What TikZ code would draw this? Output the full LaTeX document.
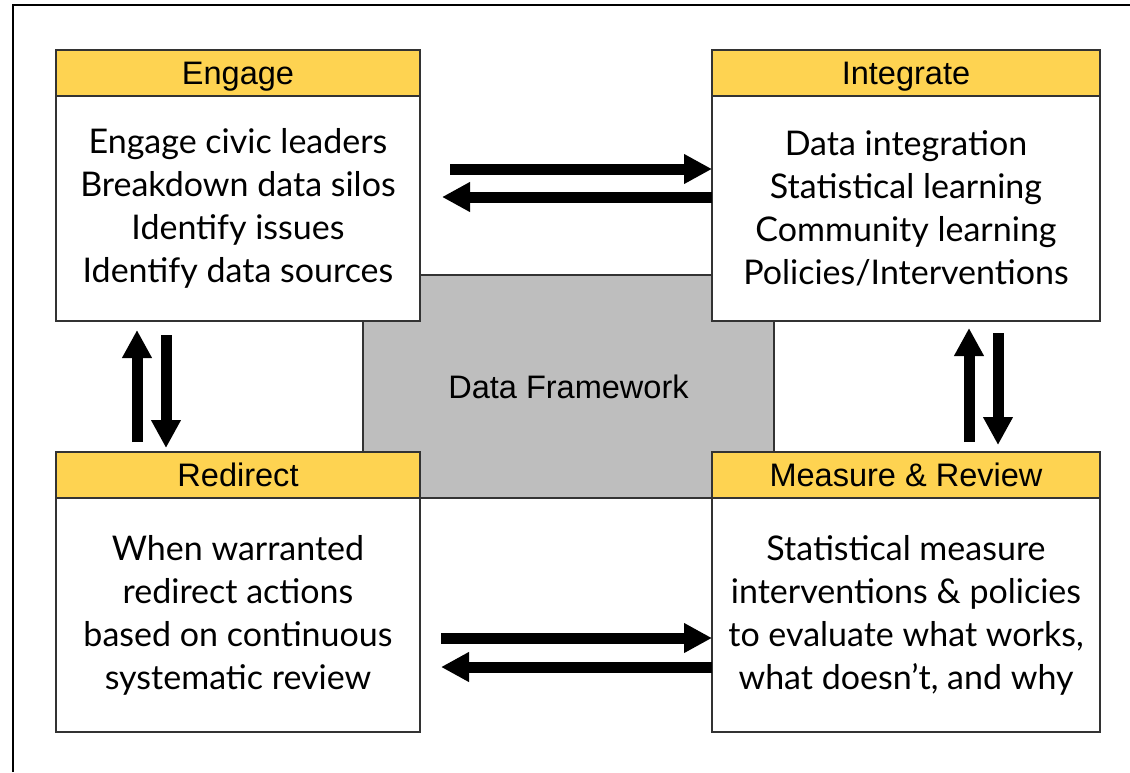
\documentclass[tikz,border=0pt]{standalone}
\usepackage{fontspec}
\usepackage{tikz}
\usetikzlibrary{arrows.meta}
\newfontfamily\headfont{Liberation Sans}
\newfontfamily\bodyfont{Lato}
\definecolor{headyellow}{RGB}{254,211,81}
\definecolor{framegray}{RGB}{190,190,190}
\tikzset{
  headbox/.style={draw=black!80, line width=0.9pt, fill=headyellow, inner sep=0pt, outer sep=0pt, anchor=north west, minimum height=34.5pt, text height=17.5pt, text depth=0pt, font=\headfont\fontsize{24.4}{28}\selectfont},
  textbox/.style={draw=black!80, line width=0.9pt, fill=white, inner sep=0pt, outer sep=0pt, anchor=north west, align=center, font=\bodyfont\fontsize{25.5}{32.25}\selectfont},
  framebox/.style={draw=black!80, line width=0.9pt, fill=framegray, inner sep=0pt, outer sep=0pt, minimum width=308.25pt, minimum height=167.25pt, font=\headfont\fontsize{24.4}{28}\selectfont},
  bigarrow/.style={line width=8.25pt, -{Triangle[width=21pt,length=21pt]}}
}
\begin{document}
\begin{tikzpicture}[x=0.75pt,y=0.75pt,yscale=-1,xscale=1]
		\useasboundingbox (0,0) rectangle (1130,772);
		
		%Straight Lines [outer frame]
		\draw [line width=1.2pt] (13,772) -- (13,5) -- (1130,5) ;
		
		%Shape: Rectangle [data framework]
		\node [framebox] (framework) at (568.5,386.5) {Data Framework};
		
		%Shape: Rectangle [engage]
		\node [headbox, minimum width=273pt] (engage) at (56,50) {Engage};
		\node [textbox, minimum width=273pt, minimum height=168.75pt] (engagetxt) at (engage.south west) {Engage civic leaders\\Breakdown data silos\\Identify issues\\Identify data sources};
		%Shape: Rectangle [integrate]
		\node [headbox, minimum width=291pt] (integrate) at (712,50) {Integrate};
		\node [textbox, minimum width=291pt, minimum height=168.75pt] (integratetxt) at (integrate.south west) {Data integration\\Statistical learning\\Community learning\\Policies/Interventions};
		%Shape: Rectangle [redirect]
		\node [headbox, minimum width=273pt] (redirect) at (56,452) {Redirect};
		\node [textbox, minimum width=273pt, minimum height=175.5pt] (redirecttxt) at (redirect.south west) {When warranted\\redirect actions\\based on continuous\\systematic review};
		%Shape: Rectangle [measure]
		\node [headbox, minimum width=291pt] (measure) at (712,452) {Measure \& Review};
		\node [textbox, minimum width=291pt, minimum height=175.5pt] (measuretxt) at (measure.south west) {Statistical measure\\interventions \& policies\\to evaluate what works,\\what doesn’t, and why};
		
		%Straight Lines [engage <-> integrate]
		\draw [bigarrow, shorten <=22.5pt] (engagetxt.east |- 0,169) -- (integratetxt.west |- 0,169) ;
		\draw [bigarrow, shorten >=16.5pt] (integratetxt.west |- 0,197) -- (engagetxt.east |- 0,197) ;
		%Straight Lines [redirect <-> measure]
		\draw [bigarrow, shorten <=15.75pt] (redirecttxt.east |- 0,638) -- (measuretxt.west |- 0,638) ;
		\draw [bigarrow, shorten >=15.75pt] (measuretxt.west |- 0,667) -- (redirecttxt.east |- 0,667) ;
		%Straight Lines [engage <-> redirect]
		\draw [bigarrow, shorten <=7.5pt, shorten >=6.75pt] (137,0 |- redirect.north) -- (137,0 |- engagetxt.south) ;
		\draw [bigarrow, shorten <=10.5pt, shorten >=3pt] (166,0 |- engagetxt.south) -- (166,0 |- redirect.north) ;
		%Straight Lines [integrate <-> measure]
		\draw [bigarrow, shorten <=7.5pt, shorten >=5.25pt] (969,0 |- measure.north) -- (969,0 |- integratetxt.south) ;
		\draw [bigarrow, shorten <=9pt, shorten >=5.25pt] (998,0 |- integratetxt.south) -- (998,0 |- measure.north) ;
		
\end{tikzpicture}
\end{document}
